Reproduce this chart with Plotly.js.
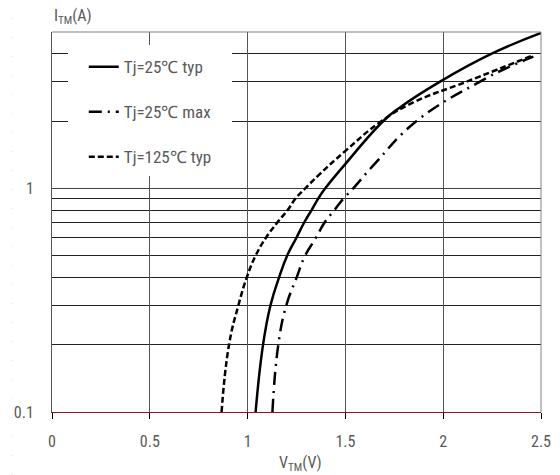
<!DOCTYPE html>
<html>
<head>
<meta charset="utf-8">
<script src="https://cdn.plot.ly/plotly-3.0.1.min.js"></script>
<style>html,body{margin:0;padding:0;background:#fff;}#chart{width:560px;height:475px;}</style>
</head>
<body>
<div id="chart"></div>
<script>
// Tj=25°C typ
const vTyp25 = [1.041, 1.079, 1.117, 1.161, 1.202, 1.249, 1.288, 1.327, 1.361, 1.397, 1.498, 1.694, 1.779, 1.984, 2.248, 2.5];
const iTyp25 = [0.10, 0.20, 0.30, 0.40, 0.50, 0.60, 0.70, 0.80, 0.90, 1.00, 1.28, 2.0, 2.3, 3.0, 4.0, 4.95];
// Tj=25°C max
const vMax25 = [1.127, 1.157, 1.198, 1.251, 1.294, 1.349, 1.392, 1.444, 1.490, 1.540, 1.651, 1.864, 2.188, 2.324, 2.461];
const iMax25 = [0.10, 0.20, 0.30, 0.40, 0.50, 0.60, 0.70, 0.80, 0.90, 1.00, 1.29, 2.0, 3.0, 3.45, 3.88];
// Tj=125°C typ
const vTyp125 = [0.867, 0.905, 0.953, 0.996, 1.041, 1.093, 1.150, 1.205, 1.245, 1.295, 1.370, 1.500, 1.685, 1.847, 2.120, 2.459];
const iTyp125 = [0.10, 0.20, 0.30, 0.40, 0.50, 0.60, 0.70, 0.80, 0.90, 1.00, 1.16, 1.47, 2.0, 2.42, 3.0, 3.93];

const seriesNames = ['Tj=25℃ typ', 'Tj=25℃ max', 'Tj=125℃ typ'];
const xTicks = [0, 0.5, 1, 1.5, 2, 2.5];
const xTickText = ['0', '0.5', '1', '1.5', '2', '2.5'];
const yTicks = [0.1, 1];
const yTickText = ['0.1', '1'];
const yMinorGrid = [0.2, 0.3, 0.4, 0.5, 0.6, 0.7, 0.8, 0.9, 2, 3, 4];

const FONT = '"Liberation Sans Narrow", "Arial Narrow", "Roboto Condensed", "Liberation Sans", sans-serif';
const GREY = '#595959';

const traces = [
  {x: vTyp25, y: iTyp25, name: seriesNames[0], legendgroup: 'a', mode: 'lines',
   line: {color: '#000', width: 2.5, shape: 'spline', smoothing: 1.3}},
  {x: vMax25, y: iMax25, name: seriesNames[1], legendgroup: 'b', mode: 'lines',
   line: {color: '#000', width: 2.5, dash: '13px,6px,2px,6px', shape: 'spline', smoothing: 1.3}},
  {x: vTyp125, y: iTyp125, name: seriesNames[2], legendgroup: 'c', mode: 'lines',
   line: {color: '#000', width: 2.5, dash: '6px,3px', shape: 'spline', smoothing: 1.3}}
];

const layout = {
  width: 560, height: 475,
  margin: {l: 52, r: 19, t: 32, b: 63},
  paper_bgcolor: '#fff', plot_bgcolor: '#fff',
  font: {family: FONT, color: GREY, size: 16},
  xaxis: {
    range: [0, 2.5], tickvals: xTicks, ticktext: xTickText,
    showgrid: true, gridcolor: '#555', gridwidth: 1, zeroline: false,
    showline: true, linecolor: '#8b1a1a', linewidth: 1,
    ticks: 'outside', ticklen: 6, tickcolor: '#000', tickwidth: 1,
    ticklabelstandoff: 9,
    tickfont: {family: FONT, size: 16, color: GREY}
  },
  yaxis: {
    type: 'log', range: [-1, Math.log10(5)], tickvals: yTicks, ticktext: yTickText,
    showgrid: true, gridcolor: '#444', gridwidth: 1, zeroline: false,
    minor: {tickmode: 'array', tickvals: yMinorGrid, showgrid: true, gridcolor: '#222', gridwidth: 1, ticks: ''},
    showline: true, linecolor: '#555', linewidth: 1, mirror: false,
    ticks: '', ticklabelstandoff: 14,
    tickfont: {family: FONT, size: 16, color: GREY}
  },
  showlegend: true,
  legend: {
    x: 0.065, y: 0.955, xanchor: 'left', yanchor: 'top',
    bgcolor: 'rgba(0,0,0,0)', borderwidth: 0,
    tracegroupgap: 20, itemwidth: 30,
    font: {family: FONT, size: 17, color: GREY}
  },
  shapes: [
    {type: 'rect', xref: 'paper', yref: 'paper', x0: 16/489, x1: 180/489, y0: 1 - 144/380, y1: 1 - 13/380,
     fillcolor: '#fff', line: {width: 0}, layer: 'above'},
    {type: 'line', xref: 'paper', yref: 'paper', x0: 0, x1: 1, y0: 1, y1: 1, line: {color: '#808080', width: 1}},
    {type: 'line', xref: 'paper', yref: 'paper', x0: 1, x1: 1, y0: 0, y1: 1, line: {color: '#808080', width: 1}},
    {type: 'line', xref: 'paper', yref: 'paper', x0: -40/489, x1: -40/489, y0: -63/380, y1: 32/380 + 1,
     line: {color: '#dddddd', width: 1, dash: '1px,18px'}}
  ],
  annotations: [
    {xref: 'paper', yref: 'paper', x: 0, y: 1 + 15/380, xanchor: 'left', yanchor: 'middle',
     text: 'I<sub>TM</sub>(A)', showarrow: false, font: {family: FONT, size: 16, color: GREY}},
    {xref: 'paper', yref: 'paper', x: 248/489, y: -51/380, xanchor: 'center', yanchor: 'middle',
     text: 'V<sub>TM</sub>(V)', showarrow: false, font: {family: FONT, size: 16, color: GREY}}
  ]
};

Plotly.newPlot('chart', traces, layout, {displayModeBar: false, staticPlot: true});
</script>
</body>
</html>
